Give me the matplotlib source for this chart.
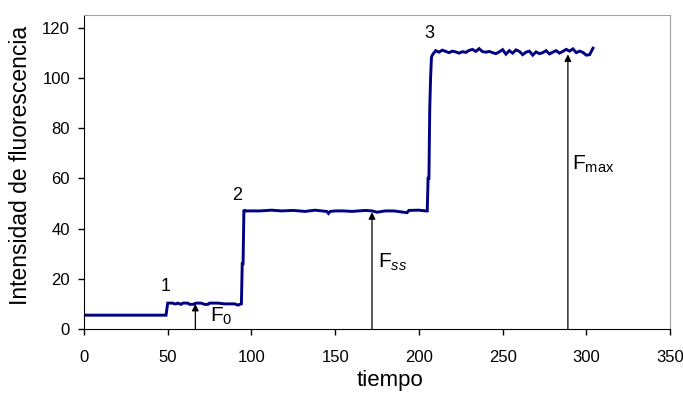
import matplotlib
matplotlib.use("Agg")
import matplotlib.pyplot as plt

plt.rcParams['font.family'] = ['Liberation Sans', 'DejaVu Sans']
plt.rcParams['mathtext.fontset'] = 'custom'
plt.rcParams['mathtext.rm'] = 'Liberation Sans'
plt.rcParams['mathtext.it'] = 'Liberation Sans:italic'

# --- data ---
t_base = [0, 49]
y_base = [5.5, 5.5]

t_f0 = [49.5, 50, 53, 54, 55, 56, 58, 59, 62, 63, 65, 67, 70, 72, 74, 75, 80, 84, 90, 92, 93, 94]
y_f0 = [8.0, 10.3, 10.3, 10.0, 10.0, 10.3, 9.8, 10.3, 10.3, 9.8, 9.8, 10.3, 10.3, 9.8, 9.8, 10.3, 10.3, 10.0, 10.0, 9.5, 9.8, 10.0]

t_fss = [94.5, 95, 95.5, 96, 100, 105, 112, 118, 125, 132, 138, 142, 145, 146, 147, 150, 155, 160, 168, 172, 175, 180, 185, 193, 194, 200, 204, 205]
y_fss = [26.0, 26.0, 47.5, 47.0, 47.0, 47.0, 47.3, 47.0, 47.2, 46.8, 47.3, 47.0, 46.8, 46.0, 46.8, 47.0, 47.0, 46.8, 47.2, 47.0, 46.5, 47.0, 47.0, 46.3, 47.2, 47.3, 47.0, 47.0]

t_rise = [205.5, 206, 206.5, 207, 207.5, 208]
y_rise = [60.0, 60.0, 88.0, 100.0, 108.0, 109.0]

t_fmax = [210, 212, 214, 216, 218, 220, 222, 224, 226, 228, 230, 232, 234, 236, 238, 240,
          242, 244, 246, 248, 250, 252, 254, 256, 258, 260, 262, 264, 266, 268, 270, 272,
          274, 276, 278, 280, 282, 284, 286, 288, 290, 292, 294, 296, 298, 300, 302, 304]
y_fmax = [110.8, 110.2, 111.0, 110.5, 110.0, 110.6, 110.3, 109.8, 110.4, 110.1, 110.9, 111.3,
          110.5, 111.6, 110.4, 110.2, 110.5, 110.0, 109.6, 110.3, 111.2, 109.4, 110.8, 109.8,
          111.1, 110.5, 109.2, 110.2, 110.6, 109.0, 110.3, 109.6, 110.0, 110.8, 109.5, 110.2,
          110.8, 109.8, 110.5, 111.3, 110.6, 111.5, 110.0, 110.6, 110.1, 109.0, 109.2, 111.8]

t_all = t_base + t_f0 + t_fss + t_rise + t_fmax
y_all = y_base + y_f0 + y_fss + y_rise + y_fmax

arrow_x = [66.5, 172, 289]
arrow_y = [10.0, 46.5, 109.3]

step_labels = ['1', '2', '3']
step_x = [48.5, 91.5, 206]
step_y = [17.1, 53.2, 117.7]

xticks = [0, 50, 100, 150, 200, 250, 300, 350]
yticks = [0, 20, 40, 60, 80, 100, 120]

# --- figure ---
fig = plt.figure(figsize=(6.83, 3.94), dpi=100)
ax = fig.add_axes([0.123, 0.165, 0.858, 0.797])

ax.plot(t_all, y_all, color='#000080', lw=2.1, solid_joinstyle='miter')

for xa, ya in zip(arrow_x, arrow_y):
    ax.annotate('', xy=(xa, ya), xytext=(xa, 0),
                arrowprops=dict(arrowstyle='-|>', color='black', lw=0.9,
                                mutation_scale=10, shrinkA=0, shrinkB=0))

ax.text(75.3, 2.8, r'F$_{\mathrm{0}}$', fontsize=15, ha='left', va='baseline')
ax.text(175.4, 24.3, r'F$_{\mathit{ss}}$', fontsize=15, ha='left', va='baseline')
ax.text(291.5, 63.3, r'F$_{\mathrm{max}}$', fontsize=15, ha='left', va='baseline')

for s, xs, ys in zip(step_labels, step_x, step_y):
    ax.text(xs, ys, s, fontsize=13, ha='center', va='center')

ax.set_xlim(0, 350)
ax.set_ylim(0, 125)
ax.set_xticks(xticks)
ax.set_yticks(yticks)
ax.tick_params(direction='out', length=4, width=1, labelsize=12, colors='black')
ax.tick_params(axis='x', pad=11)
ax.tick_params(axis='y', pad=6)

for side in ['top', 'right']:
    ax.spines[side].set_color('#a0a0a0')
for side in ['left', 'bottom']:
    ax.spines[side].set_color('black')

xl = ax.set_xlabel('tiempo', fontsize=16)
xl.set_va('baseline')
ax.xaxis.set_label_coords(0.522, -0.183)
yl = ax.set_ylabel('Intensidad de fluorescencia', fontsize=16.5)
yl.set_va('baseline')
ax.yaxis.set_label_coords(-0.097, 0.521)

fig.savefig('out.png', dpi=100)
